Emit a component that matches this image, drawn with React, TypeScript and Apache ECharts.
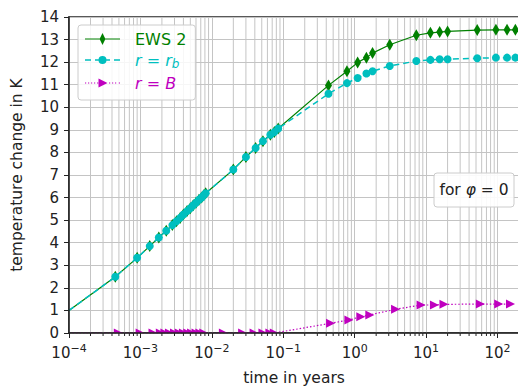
import React, { useEffect, useRef } from 'react';
import * as echarts from 'echarts';

// ---- data ----
// time (years) of the EWS 2 / r = r_b markers
const timeMarkers = [
  4.45e-4, 9.0e-4, 1.35e-3, 1.81e-3, 2.3e-3, 2.8e-3, 3.2e-3, 3.6e-3, 4.0e-3, 4.5e-3,
  5.0e-3, 5.5e-3, 6.0e-3, 6.6e-3, 7.2e-3, 7.7e-3, 8.2e-3, 2.0e-2, 3.0e-2, 4.1e-2,
  5.2e-2, 6.6e-2, 7.5e-2, 8.5e-2, 0.43, 0.78, 1.1, 1.46, 1.78, 3.1,
  7.3, 11.5, 15.5, 20, 52, 95, 136, 178,
];
// EWS 2 temperature change (K)
const ews2Values = [
  2.49, 3.33, 3.85, 4.23, 4.53, 4.78, 4.95, 5.1, 5.25, 5.4,
  5.53, 5.66, 5.77, 5.9, 6.0, 6.1, 6.19, 7.24, 7.8, 8.2,
  8.5, 8.78, 8.9, 9.06, 10.97, 11.6, 11.98, 12.2, 12.4, 12.77,
  13.19, 13.3, 13.33, 13.36, 13.42, 13.43, 13.43, 13.43,
];
// r = r_b temperature change (K)
const rbValues = [
  2.49, 3.33, 3.85, 4.23, 4.53, 4.78, 4.95, 5.1, 5.25, 5.4,
  5.53, 5.66, 5.77, 5.9, 6.0, 6.1, 6.19, 7.24, 7.8, 8.2,
  8.5, 8.78, 8.9, 9.06, 10.6, 11.07, 11.3, 11.5, 11.6, 11.83,
  12.05, 12.1, 12.13, 12.13, 12.17, 12.2, 12.2, 12.2,
];
// r = B markers
const bTimes = [
  4.9e-4, 9.9e-4, 1.5e-3, 1.9e-3, 2.2e-3, 2.55e-3, 3.0e-3, 3.5e-3, 4.0e-3, 4.6e-3,
  5.2e-3, 6.0e-3, 6.8e-3, 7.7e-3, 1.45e-2, 2.7e-2, 3.9e-2, 5.2e-2, 6.5e-2, 7.5e-2,
  0.46, 0.83, 1.22, 1.63, 3.74, 8.5, 13.1, 17.8, 57.5, 104, 152,
];
const bValues = [
  0, 0, 0, 0, 0, 0, 0, 0, 0, 0,
  0, 0, 0, 0, 0, 0, 0, 0, 0, 0,
  0.43, 0.575, 0.72, 0.8, 1.05, 1.24, 1.24, 1.27, 1.28, 1.28, 1.28,
];
// start of the curves (no marker)
const curveStartTime = 1e-4;
const ews2Start = 1.0;
const rbStart = 1.0;
const bStart = 0;

const X_MIN = 1e-4;
const X_MAX = 200;
const Y_MIN = 0;
const Y_MAX = 14;
const Y_STEP = 1;
const majorExponents = [-4, -3, -2, -1, 0, 1, 2];
const minorMantissas = [2, 3, 4, 5, 6, 7, 8, 9];

const seriesNames = ['EWS 2', 'r = r_b', 'r = B'];

// ---- styles ----
const GREEN = '#008000';
const CYAN = '#00bfbf';
const MAGENTA = '#bf00bf';
const GRID = '#c4c4c4';
const INK = '#222222';
const FONT = 'DejaVu Sans';

const TRI = 'path://M0,0L10,5L0,10Z';
const HALF_TRI = 'path://M0,0L10,5L0,5Z';

// legend icons (line + marker), drawn in a 35 x 12 box
const ICON_GREEN =
  'path://M0,5.4L14.8,5.4L17.5,0L20.2,5.4L35,5.4L35,6.6L20.2,6.6L17.5,12L14.8,6.6L0,6.6Z';
const ICON_CYAN =
  'path://M0,5.3L6,5.3L6,6.7L0,6.7Z M10,5.3L16,5.3L16,6.7L10,6.7Z M19,5.3L25,5.3L25,6.7L19,6.7Z M29,5.3L35,5.3L35,6.7L29,6.7Z ' +
  'M21.5,6A4,4 0 1,1 13.5,6A4,4 0 1,1 21.5,6Z M17.5,0L17.5,0.01L17.51,0Z M17.5,12L17.5,11.99L17.51,12Z';
const ICON_MAG = (() => {
  let d = 'path://';
  [0, 3, 6, 9, 12, 24, 27, 30, 33.8].forEach((x) => {
    d += 'M' + x + ',5.4L' + (x + 1.2) + ',5.4L' + (x + 1.2) + ',6.6L' + x + ',6.6Z ';
  });
  d += 'M13.5,1.5L22.5,6L13.5,10.5Z M17.5,0L17.5,0.01L17.51,0Z M17.5,12L17.5,11.99L17.51,12Z';
  return d;
})();

export default function App() {
  const ref = useRef<HTMLDivElement>(null);

  useEffect(() => {
    document.body.style.margin = '0';
    if (!ref.current) return;
    const chart = echarts.init(ref.current, undefined, { renderer: 'svg' });

    const minorTicks: number[] = [];
    majorExponents.forEach((e) => {
      minorMantissas.forEach((m) => {
        const v = m * Math.pow(10, e);
        if (v < X_MAX) minorTicks.push(v);
      });
    });

    const greenData: any[] = [{ value: [curveStartTime, ews2Start], symbol: 'none' }];
    timeMarkers.forEach((t, i) => greenData.push([t, ews2Values[i]]));
    const cyanData: any[] = [{ value: [curveStartTime, rbStart], symbol: 'none' }];
    timeMarkers.forEach((t, i) => cyanData.push([t, rbValues[i]]));
    const magData: any[] = [{ value: [curveStartTime, bStart], symbol: 'none' }];
    bTimes.forEach((t, i) => {
      if (bValues[i] === 0) {
        magData.push({ value: [t, bValues[i]], symbol: HALF_TRI, symbolSize: [9, 4.5], symbolOffset: [0, -2.25] });
      } else {
        magData.push([t, bValues[i]]);
      }
    });

    const expLabel = (v: number) => {
      const l = Math.log10(v);
      const e = Math.round(l);
      if (Math.abs(l - e) > 1e-6) return '';
      const s = e < 0 ? '\u2212' + String(-e) : String(e);
      return '{b|10}{s|' + s + '}';
    };

    const legendText: Record<string, string> = {
      'EWS 2': '{sp| }{g|EWS 2}',
      'r = r_b': '{sp| }{ci|r}{c| = }{ci|r}{cs|b}',
      'r = B': '{sp| }{mi|r}{m| = }{mi|B}',
    };
    const LF = 16;
    const LH = 20;

    chart.setOption({
      animation: false,
      backgroundColor: '#ffffff',
      textStyle: { fontFamily: FONT },
      grid: {
        left: 69,
        right: -1,
        top: 17,
        bottom: 54,
        show: true,
        borderColor: INK,
        borderWidth: 1.5,
        backgroundColor: 'transparent',
        outerBoundsMode: 'none',
        containLabel: false,
      },
      legend: {
        orient: 'vertical',
        left: 78,
        top: 25,
        padding: [6, 9, 9, 7],
        itemGap: 5,
        itemWidth: 35,
        itemHeight: 12,
        backgroundColor: 'rgba(255,255,255,0.85)',
        borderColor: '#cccccc',
        borderWidth: 1,
        borderRadius: 3,
        itemStyle: { borderWidth: 0 },
        data: [
          { name: seriesNames[0], icon: ICON_GREEN },
          { name: seriesNames[1], icon: ICON_CYAN },
          { name: seriesNames[2], icon: ICON_MAG },
        ],
        formatter: (name: string) => legendText[name] || name,
        textStyle: {
          fontFamily: FONT,
          fontSize: LF,
          rich: {
            sp: { width: 10, fontSize: LF, lineHeight: LH },
            g: { color: GREEN, fontSize: LF, lineHeight: LH, fontFamily: FONT },
            c: { color: CYAN, fontSize: LF, lineHeight: LH, fontFamily: FONT },
            ci: { color: CYAN, fontSize: LF, lineHeight: LH, fontStyle: 'italic', fontFamily: FONT },
            cs: { color: CYAN, fontSize: 12, lineHeight: 12, fontStyle: 'italic', verticalAlign: 'bottom', fontFamily: FONT },
            m: { color: MAGENTA, fontSize: LF, lineHeight: LH, fontFamily: FONT },
            mi: { color: MAGENTA, fontSize: LF, lineHeight: LH, fontStyle: 'italic', fontFamily: FONT },
          },
        },
      },
      xAxis: [
        {
          type: 'log',
          logBase: 10,
          min: X_MIN,
          max: X_MAX,
          z: 0,
          axisLine: { show: false },
          axisTick: { show: false },
          axisLabel: { show: false },
          splitLine: { show: true, lineStyle: { color: GRID, width: 1 } },
        },
        {
          type: 'log',
          logBase: 10,
          min: X_MIN,
          max: X_MAX,
          position: 'bottom',
          z: 5,
          axisLine: { show: true, onZero: false, lineStyle: { color: INK, width: 1.5 } },
          axisTick: { show: true, length: 5, lineStyle: { color: INK, width: 1 } },
          splitLine: { show: false },
          axisLabel: {
            margin: 10,
            color: INK,
            formatter: expLabel,
            rich: {
              b: { fontSize: 15, lineHeight: 20, color: INK, fontFamily: FONT },
              s: { fontSize: 11, lineHeight: 8, verticalAlign: 'top', color: INK, fontFamily: FONT },
            },
          },
          name: 'time in years',
          nameLocation: 'middle',
          nameGap: 37,
          nameTextStyle: { fontSize: 15.5, color: INK, fontFamily: FONT },
        },
      ],
      yAxis: [
        {
          type: 'value',
          min: Y_MIN,
          max: Y_MAX,
          interval: Y_STEP,
          z: 0,
          axisLine: { show: false },
          axisTick: { show: false },
          axisLabel: { show: false },
          splitLine: { show: true, lineStyle: { color: GRID, width: 1 } },
        },
        {
          type: 'value',
          min: Y_MIN,
          max: Y_MAX,
          interval: Y_STEP,
          position: 'left',
          z: 5,
          axisLine: { show: true, onZero: false, lineStyle: { color: INK, width: 1.5 } },
          axisTick: { show: true, length: 5, lineStyle: { color: INK, width: 1 } },
          splitLine: { show: false },
          axisLabel: { margin: 10, fontSize: 15, color: INK, fontFamily: FONT },
          name: 'temperature change in K',
          nameLocation: 'middle',
          nameGap: 44,
          nameTextStyle: { fontSize: 15.5, color: INK, fontFamily: FONT },
        },
      ],
      series: [
        {
          type: 'custom',
          name: 'minor',
          xAxisIndex: 0,
          yAxisIndex: 0,
          silent: true,
          clip: false,
          encode: { x: 0, y: 1 },
          data: minorTicks.map((v) => [v, Y_MIN]),
          renderItem: (params: any, api: any) => {
            const v = api.value(0);
            const top = api.coord([v, Y_MAX]);
            const bot = api.coord([v, Y_MIN]);
            return {
              type: 'group',
              children: [
                {
                  type: 'line',
                  shape: { x1: top[0], y1: top[1], x2: bot[0], y2: bot[1] },
                  style: { stroke: GRID, lineWidth: 1 },
                },
                {
                  type: 'line',
                  shape: { x1: bot[0], y1: bot[1], x2: bot[0], y2: bot[1] + 3 },
                  style: { stroke: INK, lineWidth: 1 },
                },
              ],
            };
          },
        },
        {
          type: 'line',
          name: seriesNames[0],
          xAxisIndex: 0,
          yAxisIndex: 0,
          data: greenData,
          symbol: 'diamond',
          symbolSize: [7, 12],
          showSymbol: true,
          itemStyle: { color: GREEN },
          lineStyle: { color: GREEN, width: 1.2 },
        },
        {
          type: 'line',
          name: seriesNames[1],
          xAxisIndex: 0,
          yAxisIndex: 0,
          data: cyanData,
          symbol: 'circle',
          symbolSize: 8,
          showSymbol: true,
          itemStyle: { color: CYAN },
          lineStyle: { color: CYAN, width: 1.5, type: [6, 4] },
        },
        {
          type: 'line',
          name: seriesNames[2],
          xAxisIndex: 0,
          yAxisIndex: 0,
          data: magData,
          symbol: TRI,
          symbolSize: [9, 9],
          showSymbol: true,
          itemStyle: { color: MAGENTA },
          lineStyle: { color: MAGENTA, width: 1.2, type: [1.5, 2] },
        },
      ],
      graphic: [
        {
          type: 'rect',
          z: 100,
          shape: { x: 434, y: 173, width: 80, height: 34, r: 3 },
          style: { fill: 'rgba(255,255,255,0.9)', stroke: '#cccccc', lineWidth: 1 },
        },
        {
          type: 'text',
          z: 101,
          x: 474,
          y: 190,
          style: {
            text: '{n|for }{i|\u03c6}{n| = 0}',
            align: 'center',
            verticalAlign: 'middle',
            rich: {
              n: { fontSize: 15.5, fontFamily: FONT, fill: INK, lineHeight: 20 } as any,
              i: { fontSize: 15.5, fontFamily: FONT, fill: INK, fontStyle: 'italic', lineHeight: 20 } as any,
            },
          },
        },
      ],
    });

    return () => chart.dispose();
  }, []);

  return <div ref={ref} style={{ width: 518, height: 387 }} />;
}
